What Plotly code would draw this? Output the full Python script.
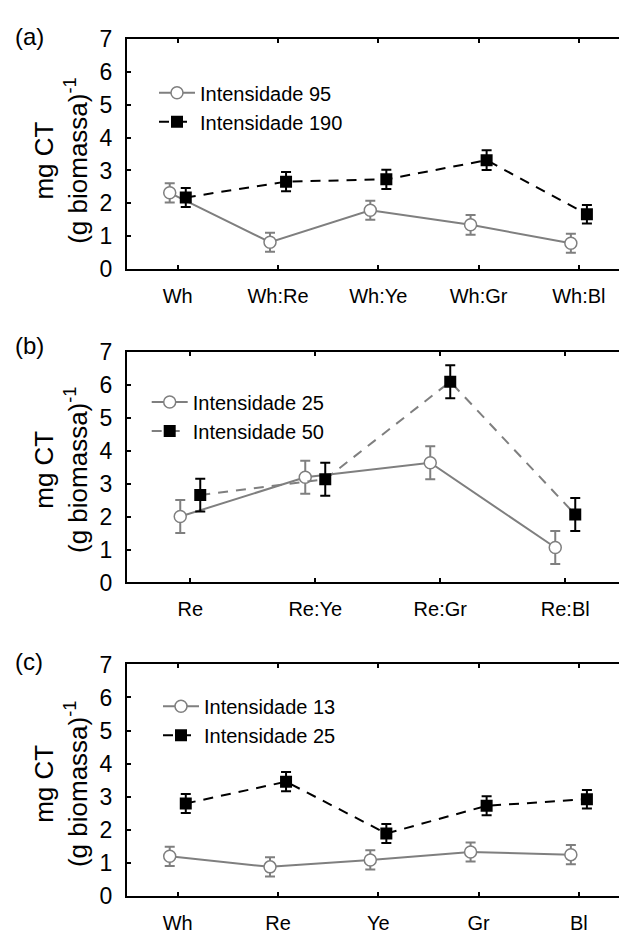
import plotly.graph_objects as go

# ---- data ----
cats_a = ["Wh", "Wh:Re", "Wh:Ye", "Wh:Gr", "Wh:Bl"]
a_low = [2.32, 0.82, 1.79, 1.35, 0.79]
a_low_err = [0.29, 0.29, 0.29, 0.30, 0.29]
a_high = [2.18, 2.66, 2.73, 3.31, 1.67]
a_high_err = [0.29, 0.29, 0.29, 0.30, 0.28]
names_a = ["Intensidade 95", "Intensidade 190"]

cats_b = ["Re", "Re:Ye", "Re:Gr", "Re:Bl"]
b_low = [2.00, 3.19, 3.63, 1.06]
b_low_err = [0.50, 0.50, 0.50, 0.50]
b_high = [2.65, 3.13, 6.09, 2.06]
b_high_err = [0.50, 0.50, 0.50, 0.50]
names_b = ["Intensidade 25", "Intensidade 50"]

cats_c = ["Wh", "Re", "Ye", "Gr", "Bl"]
c_low = [1.19, 0.87, 1.08, 1.32, 1.24]
c_low_err = [0.29, 0.29, 0.29, 0.29, 0.29]
c_high = [2.79, 3.45, 1.88, 2.72, 2.92]
c_high_err = [0.29, 0.29, 0.29, 0.29, 0.28]
names_c = ["Intensidade 13", "Intensidade 25"]

panel_labels = ["(a)", "(b)", "(c)"]
ytitle = "mg CT<br>(g biomassa)<sup>-1</sup>"

FONT = "Liberation Sans, Arial, sans-serif"
GRAY = "#7f7f7f"
BLACK = "#000000"
OFF = 0.08

fig = go.Figure()

panels = [
    (cats_a, a_low, a_low_err, a_high, a_high_err, names_a, BLACK),
    (cats_b, b_low, b_low_err, b_high, b_high_err, names_b, GRAY),
    (cats_c, c_low, c_low_err, c_high, c_high_err, names_c, BLACK),
]

for i, (cats, lo, loe, hi, hie, names, dashcol) in enumerate(panels):
    sfx = "" if i == 0 else str(i + 1)
    xa, ya = "x" + sfx, "y" + sfx
    leg = "legend" + sfx
    idx = list(range(len(cats)))
    fig.add_trace(go.Scatter(
        x=[k - OFF for k in idx], y=lo, name=names[0], mode="lines+markers",
        xaxis=xa, yaxis=ya, legend=leg,
        line=dict(color=GRAY, width=2),
        marker=dict(symbol="circle", size=12, color="white", line=dict(color=GRAY, width=1.5)),
        error_y=dict(type="data", array=loe, color=GRAY, thickness=2, width=5),
    ))
    fig.add_trace(go.Scatter(
        x=[k + OFF for k in idx], y=hi, name=names[1], mode="lines+markers",
        xaxis=xa, yaxis=ya, legend=leg,
        line=dict(color=dashcol, width=2, dash="10px,8px"),
        marker=dict(symbol="square", size=12, color=BLACK, line=dict(color=BLACK, width=0)),
        error_y=dict(type="data", array=hie, color=BLACK, thickness=2, width=5),
    ))

H = 940.0
L = 127.0
W = 619.0 - L
ydoms = [[1 - 263.5 / H, 1 - 26.5 / H], [1 - 585.7 / H, 1 - 348.3 / H], [1 - 907.7 / H, 1 - 670 / H]]
xranges = [[-0.506, 4.40], [-0.506, 3.43], [-0.506, 4.40]]
legtext_x = [200, 192.7, 204]
legrow1_y = [78, 396, 709]
labely = [24, 342, 667]
title_y = [152, 470, 793]
ITEMW = 36

layout = dict(
    width=619, height=940,
    margin=dict(l=L, r=0, t=0, b=0),
    paper_bgcolor="white", plot_bgcolor="white",
    font=dict(family=FONT, color="black"),
    showlegend=True,
)

annotations = []
for i, (cats, *_rest) in enumerate(panels):
    sfx = "" if i == 0 else str(i + 1)
    layout["xaxis" + sfx] = dict(
        domain=[0, 1], range=xranges[i], anchor="y" + sfx,
        tickmode="array", tickvals=list(range(len(cats))), ticktext=cats,
        showline=True, linecolor="black", linewidth=2, mirror="ticks",
        ticks="inside", ticklen=4, tickwidth=1.5, tickcolor="black",
        showgrid=False, zeroline=False,
        tickfont=dict(size=20, family=FONT), ticklabelstandoff=8,
    )
    layout["yaxis" + sfx] = dict(
        domain=ydoms[i], range=[0, 7], anchor="x" + sfx,
        tickmode="linear", tick0=0, dtick=1,
        showline=True, linecolor="black", linewidth=2, mirror=False,
        ticks="inside", ticklen=4, tickwidth=1.5, tickcolor="black",
        showgrid=False, zeroline=False,
        tickfont=dict(size=23, family=FONT), ticklabelstandoff=8,
    )
    layout["legend" + sfx] = dict(
        x=(legtext_x[i] - (ITEMW + 10) - L) / W, y=1 - (legrow1_y[i] - 16) / H,
        xanchor="left", yanchor="top", xref="paper", yref="paper",
        bgcolor="rgba(0,0,0,0)", borderwidth=0, itemwidth=ITEMW,
        font=dict(size=20, family=FONT), tracegroupgap=0,
    )
    annotations.append(dict(
        text=ytitle, textangle=-90, showarrow=False,
        xref="paper", yref="paper", x=(61 - L) / W, xanchor="center",
        y=1 - title_y[i] / H, yanchor="middle",
        font=dict(size=26, family=FONT),
    ))
    annotations.append(dict(
        text=panel_labels[i], showarrow=False, xref="paper", yref="paper",
        x=(13 - L) / W, xanchor="left", y=1 - labely[i] / H, yanchor="middle",
        font=dict(size=24, family=FONT),
    ))

layout["annotations"] = annotations
fig.update_layout(**layout)
fig.write_html("out.html")
